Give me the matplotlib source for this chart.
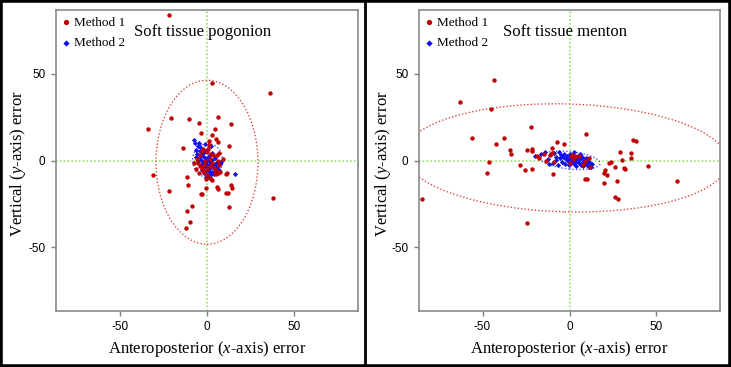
import matplotlib
matplotlib.use("Agg")
import matplotlib.pyplot as plt
from matplotlib.patches import Ellipse, Rectangle
from matplotlib.lines import Line2D

plt.rcParams['mathtext.fontset'] = 'custom'
plt.rcParams['mathtext.rm'] = 'Liberation Serif'
plt.rcParams['mathtext.it'] = 'Liberation Serif:italic'

# ---------------- data ----------------
titles = ["Soft tissue pogonion", "Soft tissue menton"]
series_names = ["Method 1", "Method 2"]
ticks = [-50, 0, 50]

pog_m1_x = [-21.5, 2.8, 36.3, 6.3, -20.4, -10.3, -4.7, 13.5, -33.6, 4.5, -3.7, 2.7, 5.3, 6.2, 12.5,
            -13.7, 0.9, 1.1, -2.5, 0.6, 9.0, -30.7, 37.7, -21.8, -11.7, -10.6, -3.5, -2.6, -0.6, 5.6,
            6.4, 11.1, 11.5, 14.0, 14.4, 11.1, 12.2, 12.5, -8.5, -11.6, -10.0, -12.2, -6.1, -5.4, -7.7,
            -3.8, -2.7, 0.0, 2.5, 3.6, 5.9, 6.7, 6.3, 7.1, -1.0, -3.8, -4.8, -2.0, 0.0, 2.9,
            4.4, 5.2, 6.1, 7.2, 1.5, -0.4, -5.7, 1.9, 3.8, -2.0, 1.5, 5.2, -2.9, 3.0, 0.0]
pog_m1_y = [83.5, 44.3, 38.9, 25.1, 24.4, 23.8, 21.8, 21.1, 17.9, 18.3, 15.7, 14.7, 12.5, 10.9, 8.6,
            7.1, 11.3, 8.8, 6.7, 6.7, 1.1, -8.6, -21.3, -17.6, -9.6, -13.8, -19.5, -19.2, -15.9, -15.3,
            -16.4, -7.8, -7.4, -14.0, -15.8, -18.8, -18.4, -27.0, -26.1, -29.3, -35.1, -38.6, -4.8, -1.7, -1.3,
            3.3, 5.3, 4.8, 3.8, 2.9, 3.3, 4.4, 0.0, -2.3, -0.4, -3.3, -7.1, -6.7, -4.6, -1.3,
            -7.1, -8.0, -7.3, -6.7, -10.2, -10.9, 0.6, -3.3, -4.2, -2.5, 0.8, -5.7, -4.6, -11.1, -8.6]

pog_m2_x = [-7.5, -6.8, -5.0, -3.8, -2.5, -4.2, -5.5, -3.0, -1.8, -0.8, 0.5, -2.2, -4.0, -6.2, -1.0,
            0.8, 1.8, 2.8, -3.2, -5.0, -1.5, 0.2, 1.5, 3.0, 4.5, -2.6, -0.5, 1.2, 2.5, 3.8,
            5.2, -3.5, -1.8, 0.5, 2.0, 3.4, 4.6, 6.0, 7.4, -2.8, -0.6, 1.4, 3.0, 5.0, 6.6,
            -1.5, 0.6, 2.5, 4.2, -0.8, 1.5, 16.3, -4.5, 8.0, -6.5, 2.2, -1.2]
pog_m2_y = [11.9, 10.2, 8.5, 7.6, 6.0, 5.2, 4.0, 3.8, 4.6, 5.5, 6.8, 2.5, 1.8, 2.2, 1.2,
            2.0, 3.2, 4.5, 0.2, -0.5, -0.8, 0.0, -0.6, 0.5, 1.5, -1.8, -2.2, -2.6, -1.5, -2.8,
            -1.2, -3.2, -3.9, -4.0, -4.5, -3.8, -4.8, -3.6, -2.0, -5.4, -5.8, -6.2, -6.6, -6.0, -5.4,
            -7.4, -8.2, -8.0, -7.8, -9.2, -10.0, -7.5, 9.8, -1.0, 6.0, 8.6, 9.2]

men_m1_x = [-43.6, -62.9, -44.9, -55.8, -37.7, -42.5, -34.3, -33.5, -46.5, -47.6, -28.2, -25.7, -24.3,
            -22.3, -21.3, -21.3, -21.5, -24.2, -84.7, -18.6, -17.7, -14.9, -11.4, -9.1, -13.5, -9.9,
            -10.1, -7.4, -3.4, -9.7, 9.4, 8.8, 9.9, 0.6, 1.4, 3.3, 5.7, 2.3, 9.0, 11.3, 11.8, 8.0,
            0.4, 29.0, 30.3, 35.4, 35.6, 36.6, 38.5, 23.6, 22.9, 25.9, 31.1, 31.8, 45.4, 20.4, 20.0,
            21.7, 19.8, 27.3, 26.1, 28.0, 61.5]
men_m1_y = [46.3, 33.9, 29.4, 13.2, 13.0, 9.6, 6.3, 4.0, -1.0, -7.3, -2.3, -5.2, 6.2,
            19.1, 6.7, 5.3, -4.8, -36.1, -22.0, 2.7, 1.5, 3.8, 2.9, -1.0, -0.4, 4.2,
            7.3, 10.5, 9.6, -8.0, 15.3, -10.5, -10.5, 2.5, 3.4, 2.5, 2.5, 0.6, -0.4, 1.5, -3.8, -2.3,
            -1.7, 5.0, 0.2, 4.4, 1.7, 12.0, 11.3, -1.0, -1.5, -3.6, -4.4, -4.8, -3.4, -5.6, -6.9,
            -8.6, -12.8, -11.9, -21.1, -22.4, -11.5]

men_m2_x = [-20.0, -16.5, -14.0, -12.5, -10.5, -9.5, -8.0, -7.5, -6.5, -5.5, -5.0, -4.2, -3.6, -3.0,
            -2.5, -2.0, -1.5, -1.0, -0.5, 0.0, 0.5, 1.0, 1.5, 2.0, 2.5, 3.0, 3.5, 4.0, 4.5, 5.0,
            5.5, 6.0, 6.5, 7.0, 7.5, 8.0, 8.5, 9.0, 9.5, 10.0, 10.5, 11.0, 11.5, 12.5, 13.0,
            -11.5, -8.8, -6.0, 2.8, 6.0]
men_m2_y = [2.8, 3.5, 4.8, 1.0, 3.6, -1.2, 2.2, 0.2, -2.4, 1.5, 3.2, -0.8, 2.0, 4.0,
            -1.8, 0.6, 2.6, -0.4, -2.8, 1.2, 3.5, -1.2, 0.4, 2.0, -2.2, -0.6, 1.4, -3.0, 0.0, 2.5,
            -1.5, 0.8, -2.5, 1.8, -0.6, -3.2, 0.4, -1.8, 1.2, -2.6, -0.2, -3.6, -1.4, -4.0, -2.2,
            -2.0, 4.5, 5.0, 4.6, 4.0]

# ellipses: (center x, center y, width, height, angle)
pog_ell = [(0.0, -1.0, 58.4, 94.2, 0.0), (0.4, 0.1, 17.2, 19.4, 0.0)]
men_ell = [(-2.0, 1.5, 186.0, 62.0, -1.5), (0.2, 0.1, 35.0, 10.0, -6.0)]

panels = [
    (titles[0], pog_m1_x, pog_m1_y, pog_m2_x, pog_m2_y, pog_ell),
    (titles[1], men_m1_x, men_m1_y, men_m2_x, men_m2_y, men_ell),
]

# ---------------- figure ----------------
W, H = 731, 367
fig = plt.figure(figsize=(W / 100, H / 100), dpi=100)
fig.patch.set_facecolor('white')

rects = [(56, 10, 302, 301), (419, 10, 301, 301)]
red = '#c00000'
blue = '#1010ee'
green = '#80e040'
serif = 'Liberation Serif'
sans = 'Liberation Sans'

for (title, x1, y1, x2, y2, ells), (l, t, w, h) in zip(panels, rects):
    ax = fig.add_axes([l / W, 1 - (t + h) / H, w / W, h / H])
    ax.set_xlim(-86.5, 86.5)
    ax.set_ylim(-86.5, 86.5)
    ax.axhline(0, color=green, lw=1.1, ls=(0, (1, 1.5)), zorder=1)
    ax.axvline(0, color=green, lw=1.1, ls=(0, (1, 1.5)), zorder=1)
    (cx, cy, ew, eh, ang), (bx, by, bw, bh, bang) = ells
    ax.add_patch(Ellipse((cx, cy), ew, eh, angle=ang, fill=False, ec='#e04848',
                         lw=1.0, ls=(0, (1, 1.5)), zorder=2))
    ax.add_patch(Ellipse((bx, by), bw, bh, angle=bang, fill=False, ec='#5050ff',
                         lw=1.0, ls=(0, (1, 1.5)), zorder=2))
    ax.scatter(x2, y2, s=7, marker='D', color=blue, linewidths=0, zorder=3,
               label=series_names[1])
    ax.scatter(x1, y1, s=10, marker='o', color=red, linewidths=0, zorder=4,
               label=series_names[0])
    h_, l_ = ax.get_legend_handles_labels()
    ax.legend(h_[::-1], l_[::-1], loc='upper left', frameon=False,
              prop={'family': serif, 'size': 9.5}, handlelength=0.5, handletextpad=0.35,
              labelspacing=0.6, borderaxespad=0.2, borderpad=0.3, markerscale=1.2)
    ax.text(0.485, 0.927, title, transform=ax.transAxes, ha='center', va='center',
            family=serif, fontsize=12)
    ax.set_xticks(ticks)
    ax.set_yticks(ticks)
    ax.set_xticklabels([str(v) for v in ticks], family=sans, fontsize=8.5)
    ax.set_yticklabels([str(v) for v in ticks], family=sans, fontsize=8.5)
    ax.tick_params(direction='out', length=3.5, width=1, color='#808080', pad=4)
    for s in ax.spines.values():
        s.set_color('#8a8a8a')
        s.set_linewidth(1.2)
    ax.set_xlabel(r"Anteroposterior ($x$-axis) error", family=serif, fontsize=12, va='center')
    ax.xaxis.set_label_coords(0.5, -0.126)
    ax.set_ylabel(r"Vertical ($y$-axis) error", family=serif, fontsize=12, va='center')
    ax.yaxis.set_label_coords(-0.125 if l < 100 else -0.118, 0.49)

# frame around figure and divider between panels
fig.add_artist(Rectangle((0, 0), 1, 1, transform=fig.transFigure, fill=False,
                         ec='black', lw=4.0))
fig.add_artist(Line2D([364.5 / W, 364.5 / W], [0, 1], transform=fig.transFigure,
                      color='black', lw=2.0))

fig.savefig('out.png', dpi=100)
